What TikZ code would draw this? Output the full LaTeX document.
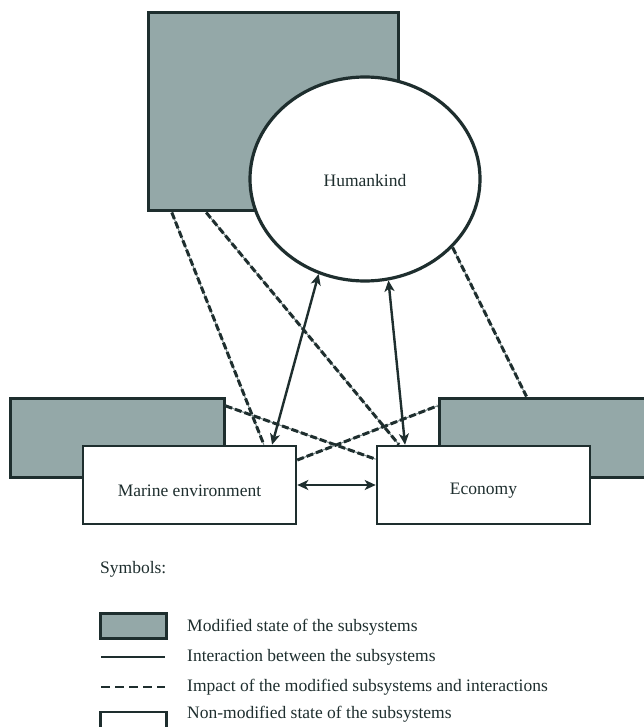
\documentclass[tikz,border=0pt]{standalone}
\usepackage{fontspec}
\setmainfont{Liberation Serif}
\usetikzlibrary{calc,shapes.geometric,arrows.meta}

\definecolor{ink}{RGB}{30,46,46}
\definecolor{modfill}{RGB}{148,168,168}
\definecolor{thinline}{RGB}{120,138,138}

\tikzset{
  modbox/.style={draw=ink, fill=modfill, line width=3pt, rectangle, inner sep=0pt},
  plainbox/.style={draw=ink, fill=white, line width=2.6pt, rectangle, inner sep=0pt},
  boxtext/.style={inner sep=0pt, text=ink, font=\fontsize{17.5}{21}\selectfont},
  interaction/.style={draw=ink, line width=2.4pt,
    {Stealth[length=11pt,width=10pt,inset=3pt]}-{Stealth[length=11pt,width=10pt,inset=3pt]}},
  impact/.style={draw=thinline, line width=1pt,
    postaction={draw=ink, line width=3pt, dash pattern=on 7pt off 3pt}},
  legtext/.style={anchor=west, inner sep=0pt, text=ink, font=\fontsize{17.5}{21}\selectfont}
}

\begin{document}
\begin{tikzpicture}[x=1pt,y=-1pt]
  \clip (0,0) rectangle (644,727);
  \fill[white] (0,0) rectangle (644,727);

  % modified subsystems (shaded)
  \node[modbox, minimum width=250pt, minimum height=198pt] (mh) at (273,112) {};
  \node[modbox, minimum width=214pt, minimum height=79pt] (mm) at (117,437.5) {};
  \node[modbox, minimum width=214pt, minimum height=79pt] (mc) at (546,437.5) {};

  % humankind
  \node[draw=ink, fill=white, line width=3.2pt, ellipse, inner sep=0pt,
        minimum width=230pt, minimum height=204pt] (hum) at (365,179) {};
  \node[boxtext] (humt) at ($(hum.center)+(0,2)$) {Humankind};

  % non-modified subsystems
  \node[plainbox, minimum width=213pt, minimum height=78pt] (me) at (189.5,485) {};
  \node[boxtext] (met) at ($(me.center)+(0,6)$) {Marine environment};
  \node[plainbox, minimum width=213pt, minimum height=78pt] (ec) at (483.5,485) {};
  \node[boxtext] (ect) at ($(ec.center)+(0,6)$) {Economy};

  % impacts of the modified subsystems
  \draw[impact] ($(mh.south west)!0.1!(mh.south east)$) -- ($(me.north west)!0.845!(me.north east)$);
  \draw[impact] ($(mh.south west)!0.236!(mh.south east)$) -- ($(ec.north west)!0.108!(ec.north east)$);
  \draw[impact] (hum.-38.4) -- ($(mc.north west)!0.41!(mc.north east)$);
  \draw[impact] ($(mm.north east)!0.114!(mm.south east)$) -- ($(ec.north west)!0.18!(ec.south west)$);
  \draw[impact] ($(me.north east)!0.19!(me.south east)$) -- ($(mc.north west)!0.114!(mc.south west)$);

  % interactions between the subsystems
  \draw[interaction] ($(me.north west)!0.883!(me.north east)$) -- (hum.-116.8);
  \draw[interaction] ($(ec.north west)!0.136!(ec.north east)$) -- (hum.-77.7);
  \draw[interaction] (me.east) -- (ec.west);

  % symbols
  \node[legtext] (symt) at (100,569) {Symbols:};
  \node[modbox, minimum width=66pt, minimum height=25pt] (lmod) at (133.5,626) {};
  \node[legtext] (lmodt) at (187,627) {Modified state of the subsystems};
  \coordinate (lia) at (101,657);
  \coordinate (lib) at (165,657);
  \draw[draw=ink, line width=2.6pt] (lia) -- (lib);
  \node[legtext] (lint) at (187,657) {Interaction between the subsystems};
  \coordinate (lpa) at (101,687);
  \coordinate (lpb) at (165,687);
  \draw[draw=ink, line width=2.6pt, dash pattern=on 9pt off 5pt] (lpa) -- (lpb);
  \node[legtext] (limt) at (187,687) {Impact of the modified subsystems and interactions};
  \node[plainbox, minimum width=66pt, minimum height=34pt] (lnon) at (133.5,729) {};
  \node[legtext] (lnont) at (187,714) {Non-modified state of the subsystems};
\end{tikzpicture}
\end{document}
